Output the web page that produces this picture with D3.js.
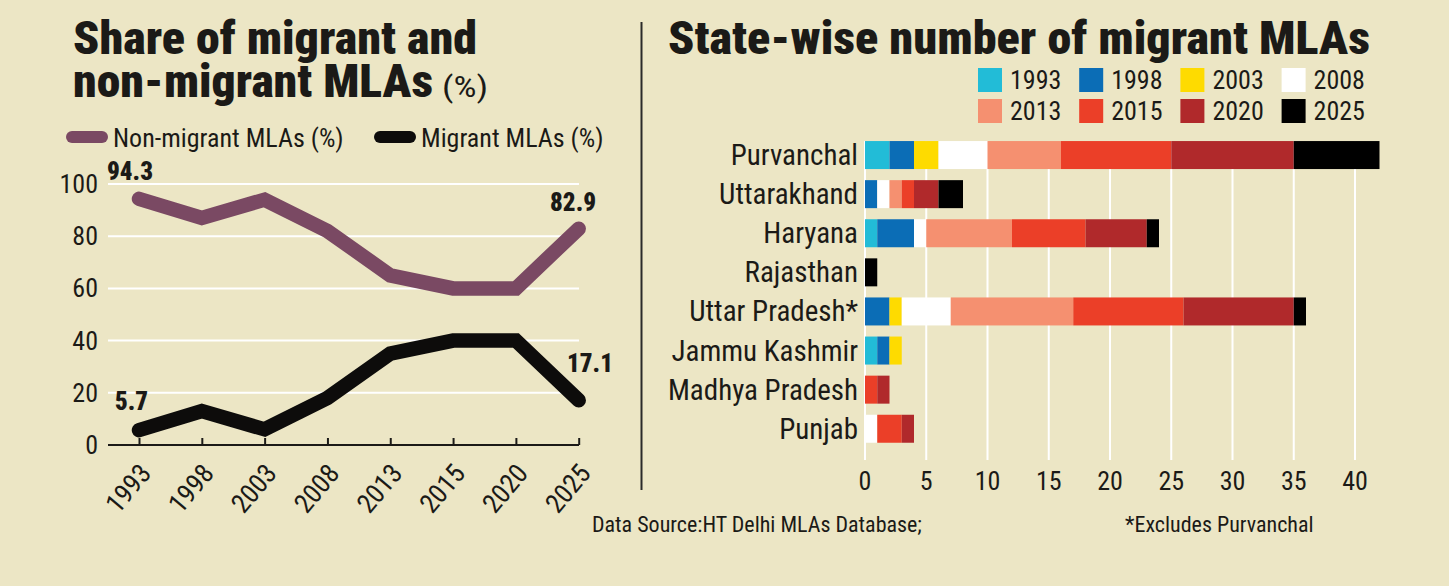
<!DOCTYPE html>
<html>
<head>
<meta charset="utf-8">
<script src="https://cdn.jsdelivr.net/npm/d3@7"></script>
<style>
  body { margin: 0; background: #ece6c5; }
  svg text { fill: #1b1a17; }
</style>
</head>
<body>
<div id="container"></div>
<script>
/* DATA */
const years = ["1993", "1998", "2003", "2008", "2013", "2015", "2020", "2025"];
const nonMigrant = [94.3, 87, 94, 82, 65, 60, 60, 82.9];
const migrant = [5.7, 13, 6, 18, 35, 40, 40, 17.1];

const states = ["Purvanchal", "Uttarakhand", "Haryana", "Rajasthan", "Uttar Pradesh*",
  "Jammu Kashmir", "Madhya Pradesh", "Punjab"];
// number of migrant MLAs per state, one array per election year
const mla1993 = [2, 0, 1, 0, 0, 1, 0, 0];
const mla1998 = [2, 1, 3, 0, 2, 1, 0, 0];
const mla2003 = [2, 0, 0, 0, 1, 1, 0, 0];
const mla2008 = [4, 1, 1, 0, 4, 0, 0, 1];
const mla2013 = [6, 1, 7, 0, 10, 0, 0, 0];
const mla2015 = [9, 1, 6, 0, 9, 0, 1, 2];
const mla2020 = [10, 2, 5, 0, 9, 0, 1, 1];
const mla2025 = [7, 2, 1, 1, 1, 0, 0, 0];
const yTicks = [0, 20, 40, 60, 80, 100];
const xTicks = [0, 5, 10, 15, 20, 25, 30, 35, 40];

/* CONSTANTS */
const width = 1449, height = 586;
const bg = "#ece6c5";
const narrow = "'Liberation Sans Narrow', 'Roboto Condensed', 'DejaVu Sans Condensed', sans-serif";
const yearColors = ["#22bcd7", "#0b6db6", "#fedb00", "#ffffff", "#f59070", "#eb3f28", "#b0292b", "#000000"];

const svg = d3.select("#container")
  .append("svg")
  .attr("width", width)
  .attr("height", height)
  .style("display", "block")
  .style("font-family", narrow);

svg.append("rect").attr("width", width).attr("height", height).attr("fill", bg);

/* TITLES */
function title(x, y, txt, len, size) {
  return svg.append("text")
    .attr("x", x).attr("y", y)
    .attr("font-size", size).attr("font-weight", 900)
    .attr("textLength", len).attr("lengthAdjust", "spacingAndGlyphs")
    .text(txt);
}
title(73, 54, "Share of migrant and", 404, 46);
title(73, 97, "non-migrant MLAs", 360, 46);
svg.append("text").attr("x", 442).attr("y", 97).attr("font-size", 30)
  .attr("textLength", 46).attr("lengthAdjust", "spacingAndGlyphs").text("(%)");
title(668, 54, "State-wise number of migrant MLAs", 702, 46);

// divider
svg.append("line").attr("x1", 641.5).attr("x2", 641.5).attr("y1", 22).attr("y2", 490)
  .attr("stroke", "#2a2a2a").attr("stroke-width", 2);

/* LEFT: LINE CHART */
const xScale = d3.scalePoint().domain(years).range([139, 578.7]);
const yScale = d3.scaleLinear().domain([0, 100]).range([445, 184]);

// gridlines
svg.append("g").selectAll("line")
  .data(yTicks.filter(d => d > 0))
  .join("line")
  .attr("x1", 108).attr("x2", 579)
  .attr("y1", d => yScale(d)).attr("y2", d => yScale(d))
  .attr("stroke", "#fff").attr("stroke-width", 2);

// y labels
svg.append("g").selectAll("text")
  .data(yTicks)
  .join("text")
  .attr("x", 98).attr("y", d => yScale(d) + 9)
  .attr("text-anchor", "end").attr("font-size", 26)
  .text(d => d);

// x axis
const xAxis = svg.append("g")
  .attr("transform", "translate(0,445)")
  .call(d3.axisBottom(xScale).tickSizeInner(-7).tickSizeOuter(0).tickPadding(0));
xAxis.select(".domain").attr("d", "M108,0H579").attr("stroke", "#1b1a17").attr("stroke-width", 2);
xAxis.selectAll(".tick line").attr("stroke", "#1b1a17").attr("stroke-width", 2);
xAxis.selectAll(".tick text")
  .attr("font-family", narrow).attr("font-size", 27).attr("fill", "#1b1a17")
  .attr("text-anchor", "end")
  .attr("dy", 0).attr("y", 0)
  .attr("transform", "translate(13,29) rotate(-50)");

const line = d3.line().x((d, i) => xScale(years[i])).y(d => yScale(d));
svg.append("path").datum(nonMigrant)
  .attr("fill", "none").attr("stroke", "#7a4963").attr("stroke-width", 14.5)
  .attr("stroke-linecap", "round").attr("stroke-linejoin", "miter")
  .attr("d", line);
svg.append("path").datum(migrant)
  .attr("fill", "none").attr("stroke", "#0d0c0b").attr("stroke-width", 14.5)
  .attr("stroke-linecap", "round").attr("stroke-linejoin", "miter")
  .attr("d", line);

// value labels
function valLabel(x, y, txt, anchor) {
  svg.append("text").attr("x", x).attr("y", y)
    .attr("font-size", 25).attr("font-weight", 900)
    .attr("text-anchor", anchor).text(txt);
}
valLabel(107, 180, nonMigrant[0].toFixed(1), "start");
valLabel(596, 211, nonMigrant[7].toFixed(1), "end");
valLabel(115, 410, migrant[0].toFixed(1), "start");
valLabel(567, 372, migrant[7].toFixed(1), "start");

// legend left
const lineLegend = [
  {label: "Non-migrant MLAs (%)", color: "#7a4963", x: 66},
  {label: "Migrant MLAs (%)", color: "#0d0c0b", x: 374}
];
const lg = svg.append("g").selectAll("g").data(lineLegend).join("g")
  .attr("transform", d => `translate(${d.x},137)`);
lg.append("line").attr("x1", 6).attr("x2", 36).attr("y1", 0).attr("y2", 0)
  .attr("stroke", d => d.color).attr("stroke-width", 12).attr("stroke-linecap", "round");
lg.append("text").attr("x", 47).attr("y", 10).attr("font-size", 26).text(d => d.label);

/* RIGHT: STACKED BAR CHART */
const table = states.map((s, i) => ({
  state: s,
  "1993": mla1993[i], "1998": mla1998[i], "2003": mla2003[i], "2008": mla2008[i],
  "2013": mla2013[i], "2015": mla2015[i], "2020": mla2020[i], "2025": mla2025[i]
}));
const series = d3.stack().keys(years)(table);

const bx = d3.scaleLinear().domain([0, 40]).range([865, 1355]);
const by = d3.scaleBand().domain(states).range([135.5, 448.3]).paddingInner(0.284).paddingOuter(0.142);
const color = d3.scaleOrdinal().domain(years).range(yearColors);

// gridlines
svg.append("g").selectAll("line")
  .data(xTicks)
  .join("line")
  .attr("x1", d => bx(d)).attr("x2", d => bx(d))
  .attr("y1", 141).attr("y2", 460)
  .attr("stroke", "#fff").attr("stroke-width", 2);

svg.append("g").selectAll("g")
  .data(series)
  .join("g")
  .attr("fill", d => color(d.key))
  .selectAll("rect")
  .data(d => d)
  .join("rect")
  .attr("x", d => bx(d[0]))
  .attr("width", d => bx(d[1]) - bx(d[0]))
  .attr("y", d => by(d.data.state))
  .attr("height", by.bandwidth());

// state labels
svg.append("g").selectAll("text")
  .data(states)
  .join("text")
  .attr("x", 858).attr("y", d => by(d) + by.bandwidth() / 2 + 10)
  .attr("text-anchor", "end").attr("font-size", 29)
  .text(d => d);

// x tick labels
svg.append("g").selectAll("text")
  .data(xTicks)
  .join("text")
  .attr("x", d => bx(d)).attr("y", 490)
  .attr("text-anchor", "middle").attr("font-size", 26)
  .text(d => d);

// legend right
const leg = svg.append("g").selectAll("g")
  .data(years)
  .join("g")
  .attr("transform", (d, i) => `translate(${978 + (i % 4) * 101.2},${68 + Math.floor(i / 4) * 31})`);
leg.append("rect").attr("width", 24).attr("height", 24).attr("fill", d => color(d));
leg.append("text").attr("x", 32).attr("y", 21).attr("font-size", 26).text(d => d);

/* FOOTER */
svg.append("text").attr("x", 592).attr("y", 532).attr("font-size", 22)
  .text("Data Source:HT Delhi MLAs Database;");
svg.append("text").attr("x", 1125).attr("y", 532).attr("font-size", 22)
  .text("*Excludes Purvanchal");
</script>
</body>
</html>
